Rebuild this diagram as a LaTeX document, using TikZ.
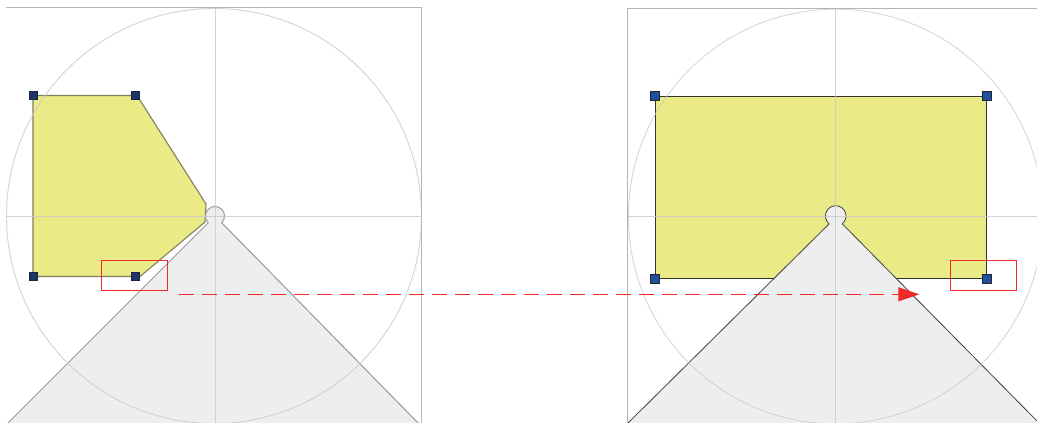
\documentclass[tikz,border=0pt]{standalone}
\usetikzlibrary{calc,arrows.meta}
\definecolor{shapeyel}{HTML}{EAEA86}
\definecolor{shapegray}{HTML}{EDEEED}
\definecolor{guide}{HTML}{C9C9C9}
\definecolor{hdlA}{HTML}{1E3566}
\definecolor{hdlB}{HTML}{1F4FA0}
\definecolor{redline}{HTML}{EE2A2A}
\tikzset{
  guideline/.style={draw=guide, line width=0.9pt, opacity=0.8},
  frameline/.style={draw=guide!90!black, line width=1.6pt},
  handleA/.style={rectangle, fill=hdlA, draw=hdlA!70!black, line width=0.4pt, minimum size=8pt, inner sep=0pt},
  handleB/.style={rectangle, fill=hdlB, draw=black!85, line width=0.6pt, minimum size=9pt, inner sep=0pt},
  selbox/.style={draw=redline, line width=0.9pt},
}
\begin{document}
\begin{tikzpicture}[x=1pt,y=-1pt]
\useasboundingbox (0,0) rectangle (1037,423);
\fill[white] (0,0) rectangle (1037,423);

% ---------------- left panel ----------------
\begin{scope}
\clip (0,0) rectangle (421.7,423);
\coordinate (CL) at (215,216);
\fill[shapeyel] (33,95.5) -- (137,95.5) -- (206,204) -- (205,222) -- (140,276.5) -- (33,276.5) -- cycle;
\draw[draw=black!45!shapeyel!60!gray, line width=1.1pt] (33,95.5) -- (137,95.5) -- (206,204) -- (205,222) -- (140,276.5) -- (33,276.5) -- cycle;
\filldraw[fill=shapegray, draw=black!40, line width=1pt]
  ($(CL)+(135:9.5)$) arc[start angle=135, end angle=405, radius=9.5]
  -- (421,426) -- (5,426) -- cycle;
\draw[guideline] (214,216) circle[radius=207.5];
\draw[guideline] (215,7.5) -- (215,423);
\draw[guideline] (6,216.5) -- (421.7,216.5);
\end{scope}
\draw[frameline, line width=1.4pt] (6,7.5) -- (421.7,7.5) -- (421.7,423);
\node[handleA] (a1) at (33,95.5) {};
\node[handleA] (a2) at (135,95.5) {};
\node[handleA] (a3) at (135,276.5) {};
\node[handleA] (a4) at (33,276.5) {};

% ---------------- right panel ----------------
\begin{scope}
\clip (627.7,0) rectangle (1037,423);
\coordinate (CR) at (835.7,216);
\fill[shapeyel] (655,96) rectangle (986.5,278.5);
\draw[black!80, line width=0.9pt] (655,96) rectangle (986.5,278.5);
\filldraw[fill=shapegray, draw=black!75, line width=0.8pt]
  ($(CR)+(130:10.3)$) arc[start angle=130, end angle=410, radius=10.3]
  -- (1042,426) -- (625,426) -- cycle;
\draw[guideline, line width=0.8pt] (835.7,216.5) circle[radius=207.3];
\draw[guideline, line width=0.8pt] (835.7,8.5) -- (835.7,423);
\draw[guideline, line width=0.8pt] (627.7,216.5) -- (1037,216.5);
\end{scope}
\draw[frameline, line width=1.4pt] (627.7,423) -- (627.7,8.5) -- (1037,8.5);
\node[handleB] (b1) at (655,96) {};
\node[handleB] (b2) at (986.5,96) {};
\node[handleB] (b3) at (986.5,278.5) {};
\node[handleB] (b4) at (655,278.5) {};

% ---------------- selection boxes and arrow ----------------
\node[selbox, minimum width=65.6pt, minimum height=29.3pt, inner sep=0pt] (selL) at (134.5,275.3) {};
\node[selbox, minimum width=66pt, minimum height=29.3pt, inner sep=0pt] (selR) at (983,275.3) {};
\coordinate (arrS) at (179.3,294.3);
\coordinate (arrE) at (919.3,294.3);
\draw[redline, line width=1pt, dash pattern=on 15pt off 8pt,
  -{Triangle[length=21pt, width=14pt]}] (arrS) -- (arrE);
\end{tikzpicture}
\end{document}
